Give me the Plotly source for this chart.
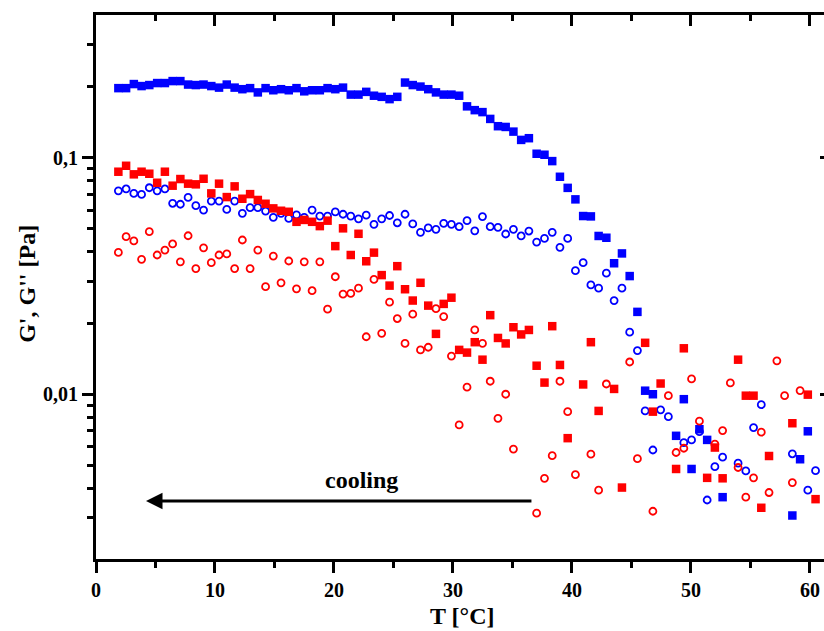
import plotly.graph_objects as go
import math

T = [1.88, 2.53, 3.18, 3.83, 4.48, 5.14, 5.79, 6.44, 7.09, 7.74,
     8.39, 9.04, 9.69, 10.34, 10.99, 11.65, 12.30, 12.95, 13.60, 14.25,
     14.90, 15.55, 16.20, 16.85, 17.50, 18.16, 18.81, 19.46, 20.11, 20.76,
     21.41, 22.06, 22.71, 23.36, 24.01, 24.67, 25.32, 25.97, 26.62, 27.27,
     27.92, 28.57, 29.22, 29.87, 30.52, 31.18, 31.83, 32.48, 33.13, 33.78,
     34.43, 35.08, 35.73, 36.38, 37.03, 37.69, 38.34, 38.99, 39.64, 40.29,
     40.94, 41.59, 42.24, 42.89, 43.54, 44.20, 44.85, 45.50, 46.15, 46.80,
     47.45, 48.10, 48.75, 49.40, 50.05, 50.71, 51.36, 52.01, 52.66, 53.31,
     53.96, 54.61, 55.26, 55.91, 56.56, 57.22, 57.87, 58.52, 59.17, 59.82,
     60.47]

blue_Gp = [0.197, 0.197, 0.205, 0.201, 0.203, 0.207, 0.207, 0.211, 0.211, 0.204,
           0.203, 0.204, 0.201, 0.198, 0.204, 0.198, 0.195, 0.197, 0.189, 0.197,
           0.193, 0.195, 0.193, 0.197, 0.191, 0.193, 0.193, 0.197, 0.195, 0.198,
           0.185, 0.185, 0.190, 0.183, 0.181, 0.177, 0.181, 0.208, 0.203, 0.200,
           0.195, 0.189, 0.185, 0.185, 0.183, 0.165, 0.159, 0.156, 0.146, 0.136,
           0.135, 0.129, 0.119, 0.121, 0.104, 0.103, 0.0968, 0.0831, 0.0746, 0.0667,
           0.0567, 0.0565, 0.0467, 0.0459, 0.0358, 0.0394, 0.0316, 0.0223, 0.01035, 0.0100,
           None, None, 0.00667, 0.00953, 0.00483, 0.00711, 0.00641, None, 0.00367, None,
           None, None, None, None, None, None, None, 0.00307, 0.00531, 0.00697,
           None]

blue_Gpp = [0.0725, 0.0738, 0.0707, 0.0700, 0.0747, 0.0725, 0.0738, 0.0642, 0.0636, 0.0680,
            0.0627, 0.0601, 0.0656, 0.0656, 0.0605, 0.0656, 0.0582, 0.0615, 0.0615, 0.0595,
            0.0560, 0.0582, 0.0554, 0.0573, 0.0560, 0.0601, 0.0567, 0.0567, 0.0590, 0.0577,
            0.0567, 0.0552, 0.0572, 0.0523, 0.0552, 0.0570, 0.0531, 0.0577, 0.0525, 0.0484,
            0.0505, 0.0498, 0.0528, 0.0523, 0.0511, 0.0542, 0.0491, 0.0564, 0.0511, 0.0508,
            0.0476, 0.0498, 0.0467, 0.0490, 0.0440, 0.0456, 0.0484, 0.0418, 0.0456, 0.0333,
            0.0360, 0.0290, 0.0281, 0.0325, 0.0249, 0.0281, 0.0183, 0.0153, 0.0085, 0.00581,
            0.00859, 0.00804, None, 0.00624, 0.00641, 0.00695, 0.00357, 0.00494, 0.00542, None,
            0.00511, 0.00474, 0.00723, 0.00903, None, None, None, 0.00560, None, 0.00393,
            0.00475]

red_Gp = [0.0873, 0.0925, 0.0851, 0.0873, 0.0856, 0.0784, 0.0873, 0.0762, 0.0813, 0.0777,
          0.0772, 0.0815, 0.0707, 0.0777, 0.0682, 0.0757, 0.0671, 0.0702, 0.0663, 0.0639,
          0.0611, 0.0597, 0.0591, 0.0536, 0.0546, 0.0536, 0.0514, 0.0542, 0.0423, 0.0503,
          0.0388, 0.0477, 0.0365, 0.0397, 0.0319, 0.0288, 0.0348, 0.0278, 0.0249, 0.0296,
          0.0237, 0.0180, 0.0241, 0.0256, 0.0154, 0.0150, 0.0166, 0.0140, 0.0216, 0.0173,
          0.0164, 0.0192, 0.0179, 0.0187, 0.0132, 0.0112, 0.0194, 0.0133, 0.00652, None,
          0.0110, 0.0166, 0.0085, None, 0.01053, 0.00403, None, None, 0.0165, 0.00844,
          0.0111, None, 0.00483, 0.01564, None, None, 0.00443, 0.00595, 0.00441, None,
          0.0140, 0.00986, 0.00986, 0.00331, 0.00548, None, None, 0.00754, None, 0.00996,
          0.00360]

red_Gpp = [0.0398, 0.0464, 0.0445, 0.0372, 0.0487, 0.0388, 0.0407, 0.0432, 0.0363, 0.0468,
           0.0340, 0.0416, 0.0360, 0.0388, 0.0392, 0.0340, 0.0449, 0.0340, 0.0407, 0.0285,
           0.0384, 0.0296, 0.0366, 0.0279, 0.0363, 0.0274, 0.0363, 0.0229, 0.0314, 0.0265,
           0.0267, 0.0281, 0.0175, 0.0306, 0.0181, 0.0245, 0.0209, 0.0164, 0.0218, 0.0154,
           0.0158, 0.0230, 0.0213, 0.0145, 0.00742, 0.01071, 0.0187, 0.0164, 0.01135, 0.00791,
           0.0100, 0.00586, None, None, 0.00314, 0.00441, 0.00550, 0.01135, 0.00844, 0.00457,
           None, 0.00558, 0.00393, 0.01105, None, None, 0.01369, 0.00534, None, 0.00320,
           None, 0.00986, 0.00567, 0.00591, 0.01161, 0.00769, None, 0.00615, 0.00702, 0.01116,
           0.00490, 0.00367, 0.00443, 0.00691, 0.00384, 0.01384, 0.00986, 0.00423, 0.01036, None,
           None]

x_major = [0, 10, 20, 30, 40, 50, 60]
x_minor = [5, 15, 25, 35, 45, 55]
y_major = [0.01, 0.1]
y_major_text = ["0,01", "0,1"]
y_minor = [0.002, 0.003, 0.004, 0.005, 0.006, 0.007, 0.008, 0.009,
           0.02, 0.03, 0.04, 0.05, 0.06, 0.07, 0.08, 0.09, 0.2, 0.3]

X_RANGE = [0, 61.18]
Y_RANGE = [math.log10(0.00201), math.log10(0.4016)]

BLUE = "#0000FF"
RED = "#FF0000"
FONT = "Liberation Serif"

fig = go.Figure()
fig.add_trace(go.Scatter(x=T, y=blue_Gp, mode="markers", name="G' blue",
                         marker=dict(symbol="square", size=8.5, color=BLUE, line=dict(width=0))))
fig.add_trace(go.Scatter(x=T, y=blue_Gpp, mode="markers", name="G'' blue",
                         marker=dict(symbol="circle-open", size=7, color=BLUE, line=dict(width=1.8, color=BLUE))))
fig.add_trace(go.Scatter(x=T, y=red_Gp, mode="markers", name="G' red",
                         marker=dict(symbol="square", size=8.5, color=RED, line=dict(width=0))))
fig.add_trace(go.Scatter(x=T, y=red_Gpp, mode="markers", name="G'' red",
                         marker=dict(symbol="circle-open", size=7, color=RED, line=dict(width=1.8, color=RED))))
# dummy trace so top / right axes are drawn
fig.add_trace(go.Scatter(x=[None], y=[None], xaxis="x2", yaxis="y2", showlegend=False, hoverinfo="skip"))

tickfont = dict(family=FONT, size=20, color="black", weight="bold")

fig.update_layout(
    width=824, height=631,
    margin=dict(l=96, r=0, t=15, b=72),
    paper_bgcolor="white", plot_bgcolor="white",
    showlegend=False,
    font=dict(family=FONT, color="black"),
    xaxis=dict(range=X_RANGE, tickmode="array", tickvals=x_major, ticks="outside",
               ticklen=11, tickwidth=2.5, tickcolor="black",
               minor=dict(tickmode="array", tickvals=x_minor, ticks="outside", ticklen=6, tickwidth=2.5, tickcolor="black"),
               showline=True, linewidth=3, linecolor="black", showgrid=False, zeroline=False,
               tickfont=tickfont),
    xaxis2=dict(range=X_RANGE, overlaying="x", side="top", anchor="y", tickmode="array", tickvals=x_major,
                ticks="inside", ticklen=11, tickwidth=2.5, tickcolor="black",
                minor=dict(tickmode="array", tickvals=x_minor, ticks="inside", ticklen=6, tickwidth=2.5, tickcolor="black"),
                showline=True, linewidth=3, linecolor="black", showgrid=False, zeroline=False,
                showticklabels=False),
    yaxis=dict(type="log", range=Y_RANGE, tickmode="array", tickvals=y_major, ticktext=y_major_text,
               ticks="outside", ticklen=11, tickwidth=2.5, tickcolor="black",
               minor=dict(tickmode="array", tickvals=y_minor, ticks="outside", ticklen=6, tickwidth=2.5, tickcolor="black"),
               showline=True, linewidth=3, linecolor="black", showgrid=False, zeroline=False,
               tickfont=tickfont),
    yaxis2=dict(type="log", range=Y_RANGE, overlaying="y", side="right", anchor="x",
                tickmode="array", tickvals=y_major, ticks="inside", ticklen=4, tickwidth=2.5, tickcolor="black",
                showline=False, showgrid=False, zeroline=False, showticklabels=False),
)

fig.add_annotation(x=0.504, y=-0.104, xref="paper", yref="paper", text="T [°C]", showarrow=False,
                   font=dict(family=FONT, size=24, color="black", weight="bold"), xanchor="center", yanchor="middle")
fig.add_annotation(x=-0.094, y=0.505, xref="paper", yref="paper", text="G', G'' [Pa]", showarrow=False,
                   textangle=-90, font=dict(family=FONT, size=24, color="black", weight="bold"),
                   xanchor="center", yanchor="middle")
fig.add_annotation(x=22.3, y=math.log10(0.00434), xref="x", yref="y", text="cooling", showarrow=False,
                   font=dict(family=FONT, size=24, color="black", weight="bold"), xanchor="center", yanchor="middle")
fig.add_annotation(x=4.2, y=math.log10(0.00354), ax=36.72, ay=math.log10(0.00354), xref="x", yref="y",
                   axref="x", ayref="y", text="", showarrow=True, arrowhead=2, arrowsize=1.1,
                   arrowwidth=3, arrowcolor="black", standoff=0, startstandoff=0)

fig.write_html("out.html")
